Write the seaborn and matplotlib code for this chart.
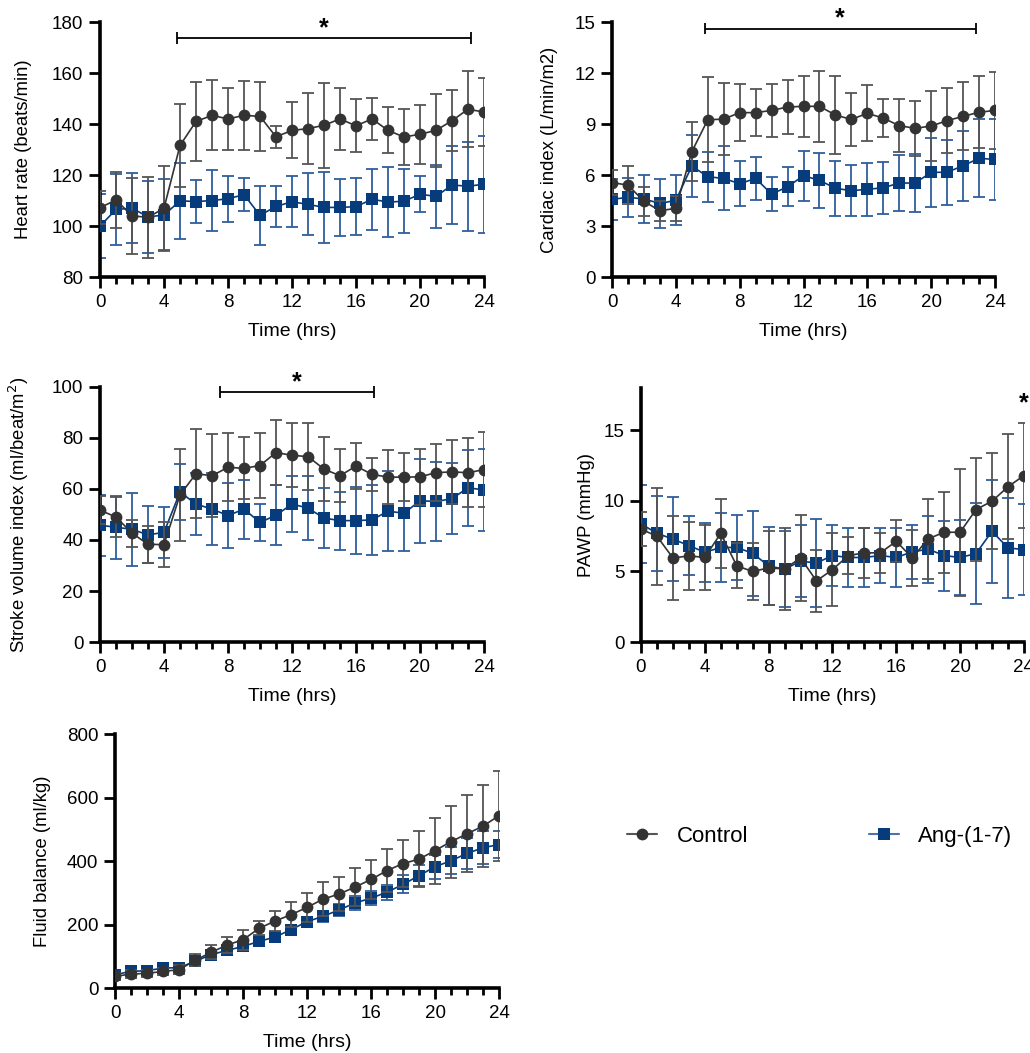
import numpy as np
import pandas as pd
import seaborn as sns
import matplotlib
matplotlib.use('Agg')
from matplotlib import pyplot as plt
from matplotlib.lines import Line2D
from matplotlib.ticker import MultipleLocator

sns.set_style('ticks')
plt.rcParams['font.family'] = ['Liberation Sans', 'DejaVu Sans']
plt.rcParams['text.color'] = 'black'
plt.rcParams['axes.labelcolor'] = 'black'
plt.rcParams['xtick.color'] = 'black'
plt.rcParams['ytick.color'] = 'black'
plt.rcParams['axes.edgecolor'] = 'black'

hours = list(range(25))
groups = ['Control', 'Ang-(1-7)']

# heart rate (beats/min)
hr_ctrl = [107.2, 110.2, 104.0, 103.4, 107.0, 131.6, 141.0, 143.4, 142.0, 143.4, 143.0, 135.0, 137.5,
           138.2, 139.5, 142.0, 139.3, 142.0, 137.5, 134.9, 136.0, 137.5, 141.3, 145.8, 144.7]
hr_ctrl_sd = [6.5, 10.8, 14.8, 16.0, 16.5, 16.3, 15.5, 13.7, 12.0, 13.5, 13.5, 4.3, 11.0,
              14.0, 16.6, 12.3, 10.4, 8.2, 9.0, 11.0, 11.6, 14.3, 12.0, 15.0, 13.4]
hr_ang = [100.0, 106.5, 107.0, 103.6, 104.3, 109.9, 109.6, 110.0, 110.7, 112.3, 104.2, 107.7, 109.5,
          108.5, 107.3, 107.3, 107.6, 110.5, 109.4, 109.7, 112.5, 111.6, 116.1, 115.6, 116.4]
hr_ang_sd = [12.5, 14.0, 13.8, 14.0, 14.0, 15.0, 8.3, 12.0, 9.0, 6.5, 11.6, 8.1, 10.0,
             12.2, 14.0, 11.3, 11.1, 12.0, 13.8, 12.6, 7.0, 12.4, 15.2, 17.5, 19.0]

# cardiac index (L/min/m2)
ci_ctrl = [5.55, 5.41, 4.45, 3.90, 4.04, 7.37, 9.25, 9.29, 9.67, 9.67, 9.80, 10.00, 10.04,
           10.04, 9.53, 9.27, 9.63, 9.35, 8.90, 8.75, 8.88, 9.20, 9.45, 9.69, 9.80]
ci_ctrl_sd = [0.75, 1.10, 0.87, 0.58, 0.72, 1.72, 2.50, 2.10, 1.66, 1.37, 1.56, 1.57, 1.80,
              2.07, 2.30, 1.55, 1.65, 1.10, 1.56, 1.62, 2.06, 1.93, 2.00, 2.12, 2.27]
ci_ang = [4.57, 4.69, 4.59, 4.33, 4.51, 6.53, 5.90, 5.80, 5.49, 5.80, 4.88, 5.31, 5.96,
          5.69, 5.22, 5.08, 5.16, 5.25, 5.53, 5.53, 6.16, 6.16, 6.55, 6.98, 6.92]
ci_ang_sd = [1.20, 1.15, 1.42, 1.42, 1.47, 1.80, 1.47, 1.88, 1.31, 1.27, 1.00, 1.15, 1.47,
             1.60, 1.63, 1.50, 1.57, 1.54, 1.63, 1.70, 2.02, 1.92, 2.06, 2.29, 2.40]

# stroke volume index (ml/beat/m2)
svi_ctrl = [51.7, 49.0, 42.7, 38.3, 38.2, 57.7, 66.0, 65.2, 68.5, 68.1, 69.2, 74.3, 73.2,
            72.7, 67.8, 65.2, 69.0, 65.7, 64.7, 64.6, 64.8, 66.4, 66.7, 66.4, 67.6]
svi_ctrl_sd = [5.5, 8.0, 5.3, 7.2, 8.7, 18.0, 17.5, 16.2, 13.3, 12.2, 12.8, 12.6, 12.6,
               13.1, 12.6, 10.3, 9.0, 6.4, 10.5, 9.5, 11.0, 11.2, 12.5, 13.4, 14.7]
svi_ang = [45.8, 45.0, 44.2, 42.0, 43.0, 58.8, 54.1, 52.1, 49.6, 52.1, 46.9, 49.7, 54.1,
           52.5, 48.6, 47.6, 47.6, 47.9, 51.3, 50.5, 55.4, 55.1, 56.2, 60.5, 59.6]
svi_ang_sd = [12.0, 12.3, 14.2, 11.2, 10.0, 11.0, 12.0, 14.0, 12.6, 11.6, 7.2, 11.8, 11.1,
              12.4, 11.8, 11.4, 13.0, 13.8, 15.6, 14.7, 16.4, 15.3, 14.0, 14.9, 16.0]

# PAWP (mmHg)
pawp_ctrl = [8.0, 7.5, 5.96, 6.1, 6.0, 7.7, 5.4, 5.0, 5.25, 5.18, 5.96, 4.33, 5.13,
             6.13, 6.32, 6.32, 7.14, 5.96, 7.31, 7.78, 7.78, 9.39, 9.98, 11.0, 11.8]
pawp_ctrl_sd = [1.2, 3.45, 3.0, 2.42, 2.3, 2.44, 1.6, 2.0, 2.6, 2.9, 3.05, 2.18, 2.6,
                1.33, 1.75, 1.4, 1.5, 2.0, 2.84, 2.86, 4.5, 3.67, 3.42, 3.71, 3.71]
pawp_ang = [8.37, 7.71, 7.29, 6.84, 6.36, 6.70, 6.70, 6.29, 5.39, 5.16, 5.73, 5.60, 6.13,
            5.99, 5.99, 6.13, 5.99, 6.39, 6.58, 6.13, 5.99, 6.27, 7.85, 6.67, 6.55]
pawp_ang_sd = [2.78, 2.65, 3.0, 2.1, 2.1, 2.46, 2.3, 3.0, 2.78, 2.7, 2.56, 3.1, 2.15,
               2.08, 2.08, 1.95, 2.08, 1.9, 2.38, 2.48, 2.66, 3.57, 3.66, 3.55, 3.2]

# fluid balance (ml/kg)
fb_ctrl = [36.7, 44.1, 46.2, 52.5, 57.7, 87.1, 112.3, 135.4, 152.2, 187.9, 211.0, 231.0, 254.0,
           280.0, 296.0, 318.0, 342.0, 370.0, 392.0, 406.0, 433.0, 461.0, 486.0, 510.0, 543.0]
fb_ctrl_sd = [10, 12, 12, 12, 14, 19, 22, 24, 32, 22, 32, 40, 45,
              53, 53, 60, 62, 68, 74, 88, 104, 113, 121, 129, 142]
fb_ang = [42.0, 52.5, 54.6, 63.0, 64.0, 84.0, 105.0, 118.6, 131.0, 147.0, 160.6, 184.0, 209.0,
          226.0, 246.0, 268.0, 283.0, 302.0, 326.5, 354.0, 382.0, 401.0, 424.0, 442.0, 452.0]
fb_ang_sd = [15, 12, 12, 12, 12, 10, 12, 12, 14, 15, 15, 15, 15,
             18, 20, 22, 22, 24, 28, 32, 38, 42, 50, 52, 42]

ctrl_color = '#333333'
ctrl_err = '#555555'
ang_color = '#073c7c'
ang_err = '#2f5f9c'

fig = plt.figure(figsize=(10.3, 10.53), dpi=100)


def panel(rect, ctrl, ctrl_sd, ang, ang_sd, ylabel, ylim, ystep, label_x):
    ax = fig.add_axes(rect)
    df = pd.DataFrame({'Time': hours * 2,
                       'value': ctrl + ang,
                       'group': ['Control'] * 25 + ['Ang-(1-7)'] * 25})
    # blue first, control on top
    ax.errorbar(hours, ang, yerr=ang_sd, fmt='none', ecolor=ang_err, elinewidth=1.3,
                capsize=4.5, capthick=1.3, zorder=2)
    sns.lineplot(data=df[df['group'] == 'Ang-(1-7)'], x='Time', y='value', color=ang_color,
                 marker='s', markersize=8.5, markeredgewidth=0, linewidth=1.2, ax=ax,
                 errorbar=None, zorder=3)
    ax.errorbar(hours, ctrl, yerr=ctrl_sd, fmt='none', ecolor=ctrl_err, elinewidth=1.3,
                capsize=4.5, capthick=1.3, zorder=4)
    sns.lineplot(data=df[df['group'] == 'Control'], x='Time', y='value', color=ctrl_color,
                 marker='o', markersize=8.5, markeredgewidth=0, linewidth=1.2, ax=ax,
                 errorbar=None, zorder=5)
    ax.set_xlim(0, 24)
    ax.set_ylim(*ylim)
    ax.xaxis.set_major_locator(MultipleLocator(4))
    ax.xaxis.set_minor_locator(MultipleLocator(1))
    ax.yaxis.set_major_locator(MultipleLocator(ystep))
    ax.set_xlabel('Time (hrs)', fontsize=14, labelpad=9)
    ax.set_ylabel(ylabel, fontsize=13.3)
    ax.yaxis.set_label_coords(label_x, 0.5)
    ax.tick_params(which='major', length=8, width=2, labelsize=13.5, pad=4)
    ax.tick_params(which='minor', length=5, width=2)
    for s in ['top', 'right']:
        ax.spines[s].set_visible(False)
    for s in ['left', 'bottom']:
        ax.spines[s].set_linewidth(2.6)
    return ax


def sig(ax, x0, x1, y, star_x, star_y):
    ax.hlines(y, x0, x1, color='black', linewidth=1.3, clip_on=False)
    h = (ax.get_ylim()[1] - ax.get_ylim()[0]) * 0.022
    ax.vlines([x0, x1], y - h, y + h, color='black', linewidth=1.3, clip_on=False)
    ax.text(star_x, star_y, '*', ha='center', va='center', fontsize=18, fontweight='bold',
            clip_on=False)


ax1 = panel([0.0971, 0.7369, 0.3728, 0.2422], hr_ctrl, hr_ctrl_sd, hr_ang, hr_ang_sd,
            'Heart rate (beats/min)', (80, 180), 20, -0.176)
sig(ax1, 4.8, 23.2, 173.7, 14.0, 177.5)

ax2 = panel([0.5942, 0.7369, 0.3718, 0.2422], ci_ctrl, ci_ctrl_sd, ci_ang, ci_ang_sd,
            'Cardiac index (L/min/m2)', (0, 15), 3, -0.140)
sig(ax2, 5.8, 22.8, 14.6, 14.3, 15.2)

ax3 = panel([0.0971, 0.3903, 0.3728, 0.2422], svi_ctrl, svi_ctrl_sd, svi_ang, svi_ang_sd,
            'Stroke volume index (ml/beat/m$^2$)', (0, 100), 20, -0.181)
sig(ax3, 7.5, 17.1, 98.0, 12.3, 102.0)

ax4 = panel([0.6223, 0.3903, 0.3718, 0.2412], pawp_ctrl, pawp_ctrl_sd, pawp_ang, pawp_ang_sd,
            'PAWP (mmHg)', (0, 18), 5, -0.119)
ax4.text(24, 16.9, '*', ha='center', va='center', fontsize=18, fontweight='bold', clip_on=False)

ax5 = panel([0.1117, 0.0617, 0.3728, 0.2412], fb_ctrl, fb_ctrl_sd, fb_ang, fb_ang_sd,
            'Fluid balance (ml/kg)', (0, 800), 200, -0.168)

handles = [Line2D([0], [0], color='#555555', marker='o', markersize=8.5, markerfacecolor=ctrl_color,
                  markeredgewidth=0, linewidth=1.5),
           Line2D([0], [0], color='#4a74ab', marker='s', markersize=8.5, markerfacecolor=ang_color,
                  markeredgewidth=0, linewidth=1.5)]
fig.legend(handles, groups, loc='center', bbox_to_anchor=(0.796, 0.206), ncol=2, frameon=False,
           fontsize=16, handlelength=1.35, handletextpad=0.86, columnspacing=5.45)

fig.savefig('out.png', dpi=100)
